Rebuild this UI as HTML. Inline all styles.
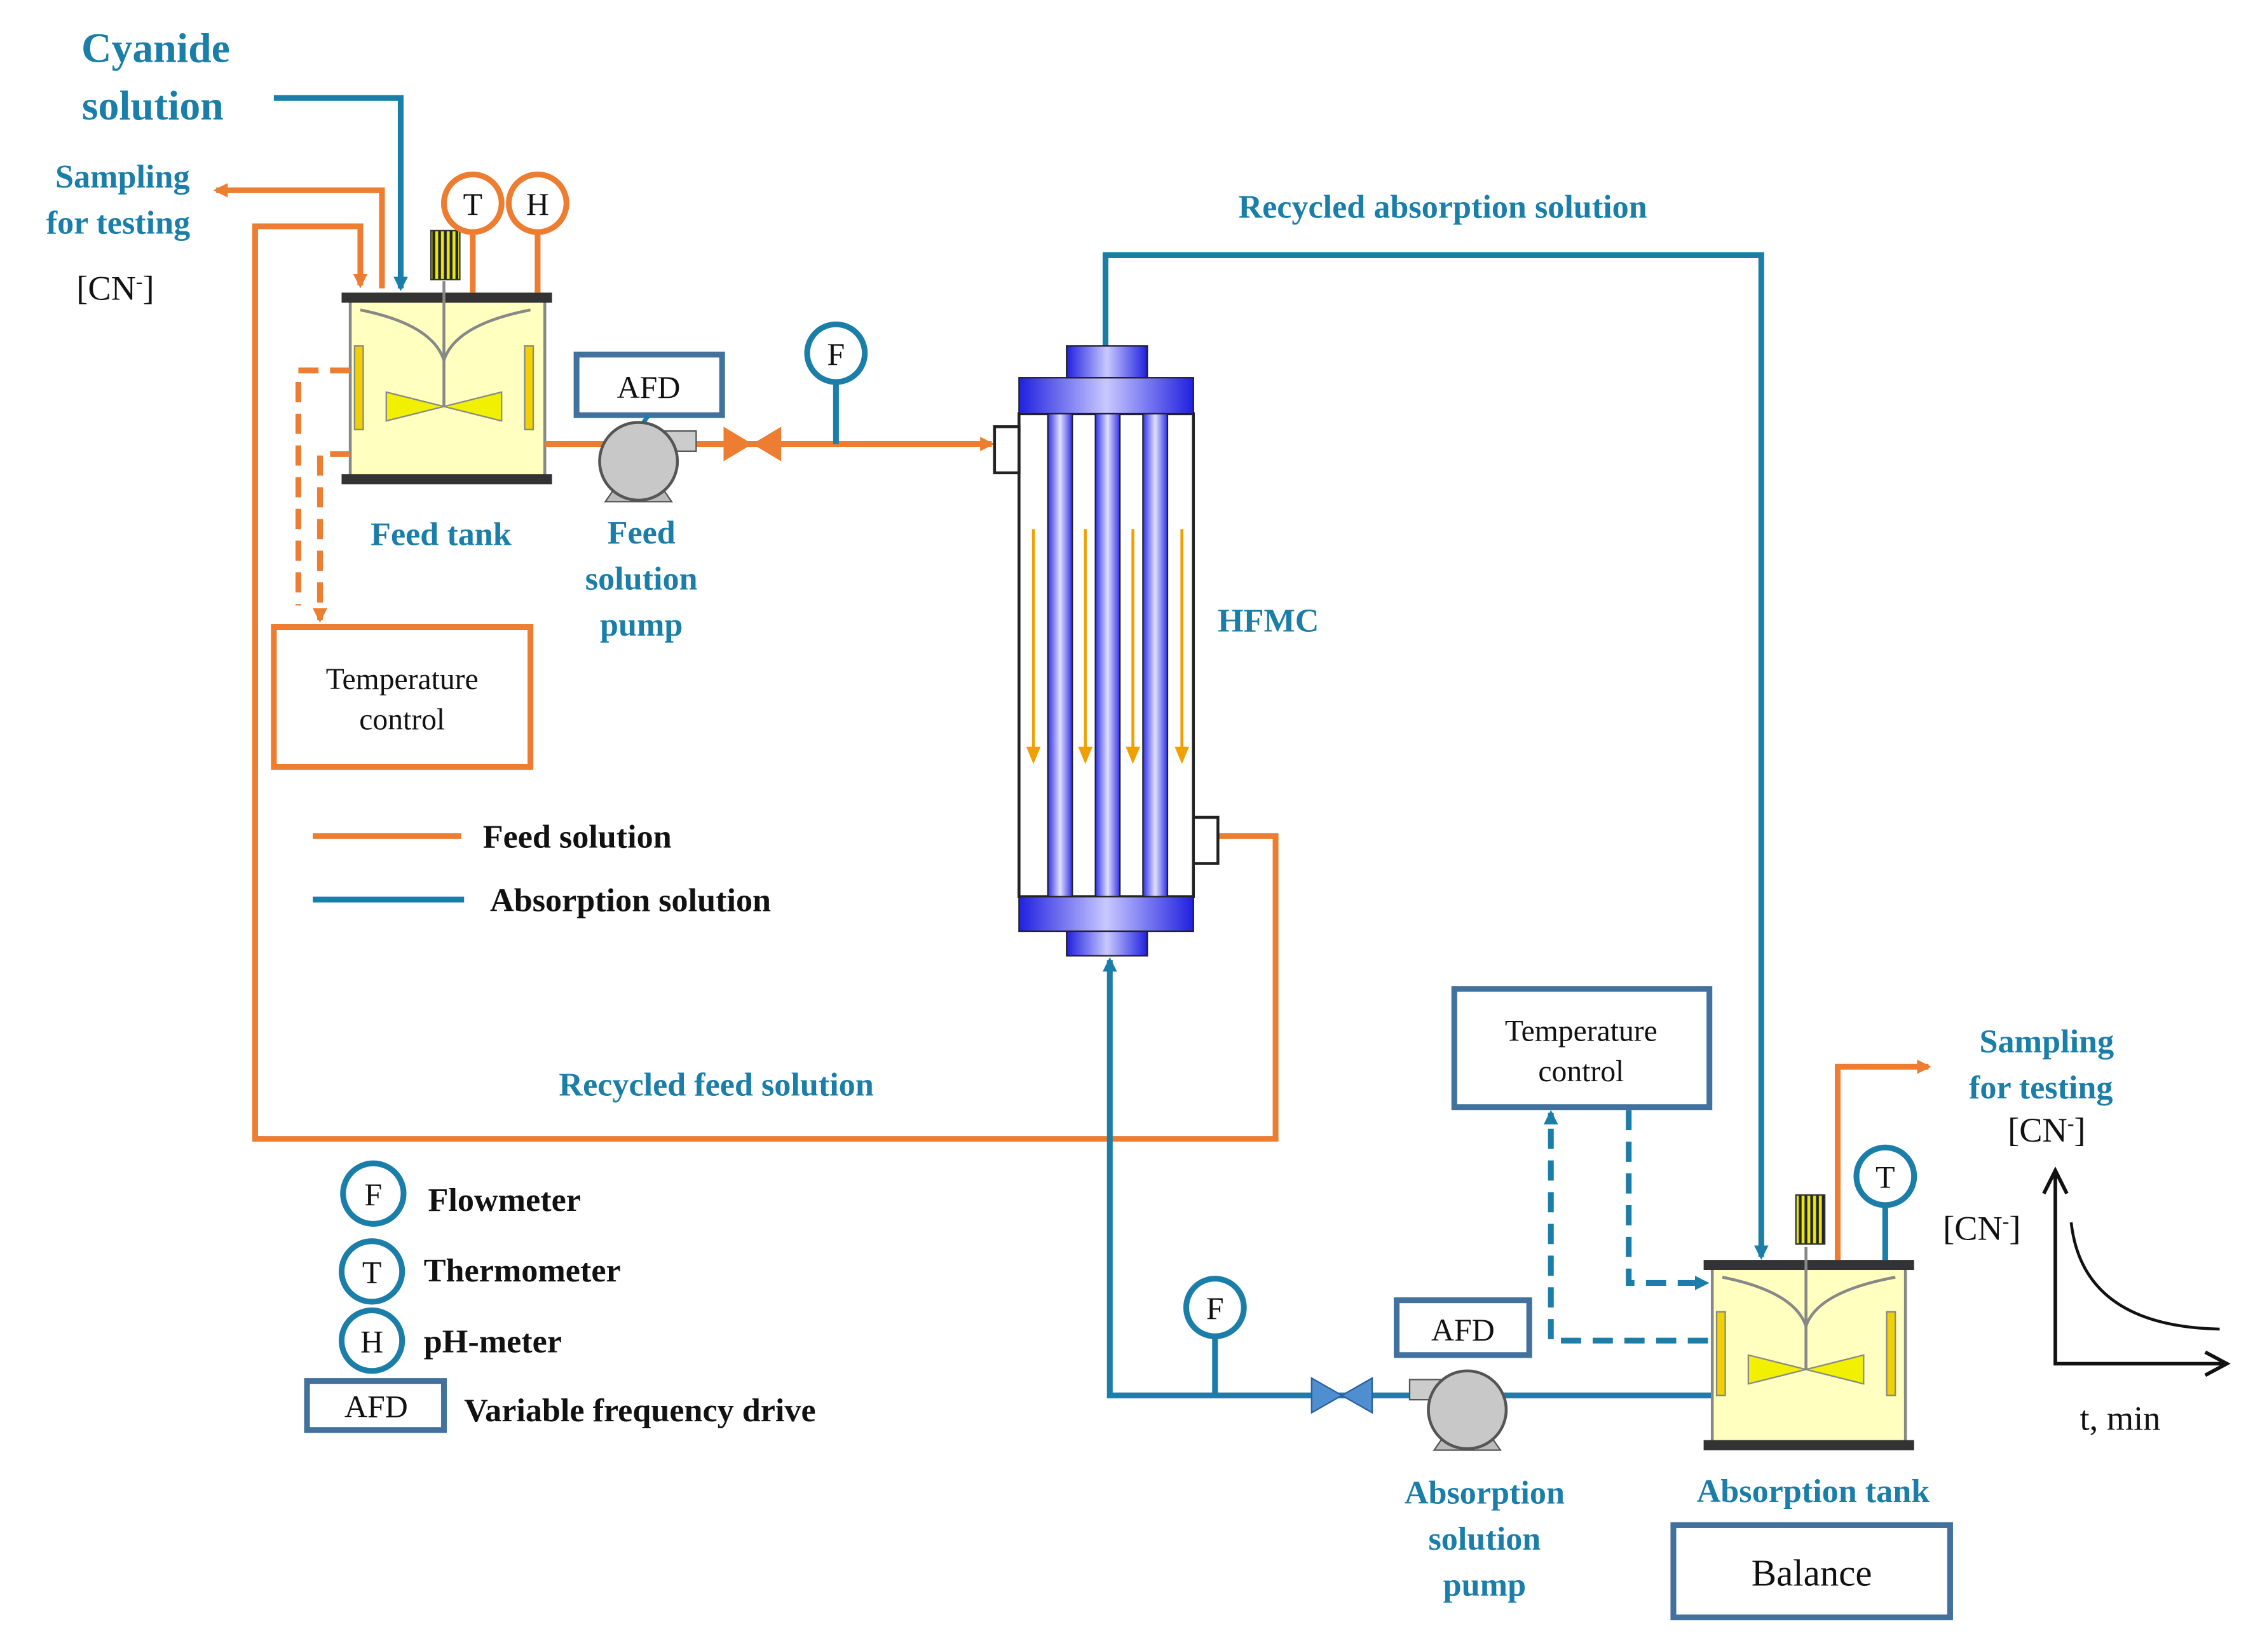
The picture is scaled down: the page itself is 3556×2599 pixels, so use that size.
<!DOCTYPE html>
<html><head><meta charset="utf-8"><style>
html,body{margin:0;padding:0;background:#fff;}
svg{display:block}
text{font-family:"Liberation Serif",serif;}
.t{fill:#1a7ea8;font-weight:bold;font-size:23px;text-anchor:middle}
.o{fill:#ED7D31;font-weight:bold;font-size:23px;text-anchor:middle}
.k{fill:#111;font-size:21px;text-anchor:middle}
.lg{fill:#111;font-weight:bold;font-size:23px}
</style></head><body>
<svg width="3556" height="2599" viewBox="0 0 1568 1146" preserveAspectRatio="none" xmlns="http://www.w3.org/2000/svg">
<defs>
<marker id="ao" markerWidth="10" markerHeight="10" refX="8" refY="5" orient="auto" markerUnits="userSpaceOnUse"><path d="M0,0 L10,5 L0,10 z" fill="#ED7D31"/></marker>
<marker id="ab" markerWidth="10" markerHeight="10" refX="8" refY="5" orient="auto" markerUnits="userSpaceOnUse"><path d="M0,0 L10,5 L0,10 z" fill="#1a7ea8"/></marker>
<linearGradient id="hg" x1="0" x2="1"><stop offset="0" stop-color="#2020e0"/><stop offset="0.5" stop-color="#c8c8ff"/><stop offset="1" stop-color="#2020e0"/></linearGradient>
<linearGradient id="tg" x1="0" x2="1"><stop offset="0" stop-color="#3030e8"/><stop offset="0.5" stop-color="#e0e0ff"/><stop offset="1" stop-color="#3030e8"/></linearGradient>
<pattern id="mot" width="4" height="4" patternUnits="userSpaceOnUse"><rect width="2" height="4" fill="#222"/><rect x="2" width="2" height="4" fill="#e8e800"/></pattern>
</defs>

<text x="108" y="43" class="t" style="font-size:29px">Cyanide</text>
<text x="106" y="83" class="t" style="font-size:29px">solution</text>
<polyline points="190,68 278,68 278,200" fill="none" stroke="#1a7ea8" stroke-width="4" marker-end="url(#ab)"/>
<text x="85" y="130" class="t">Sampling</text>
<text x="82" y="162" class="t">for testing</text>
<text x="80" y="208" class="k" style="font-size:24px">[CN<tspan dy="-8" font-size="14">-</tspan><tspan dy="8">]</tspan></text>
<polyline points="265,200 265,132 150,132" fill="none" stroke="#ED7D31" stroke-width="4" marker-end="url(#ao)"/>
<polyline points="845,580 885,580 885,790 177,790 177,157 250,157 250,198" fill="none" stroke="#ED7D31" stroke-width="4" marker-end="url(#ao)"/>

<rect x="243" y="207" width="135" height="126" fill="#FFFFC0" stroke="#888" stroke-width="2"/>
<rect x="237" y="203" width="146" height="7" fill="#333"/>
<rect x="237" y="329" width="146" height="7" fill="#333"/>
<rect x="246" y="240" width="6" height="58" fill="#f0d000" stroke="#888"/>
<rect x="364" y="240" width="6" height="58" fill="#f0d000" stroke="#888"/>
<path d="M250,215 Q300,225 308,250 Q316,225 368,215" fill="none" stroke="#888" stroke-width="2"/>
<line x1="308" y1="195" x2="308" y2="282" stroke="#888" stroke-width="2"/>
<path d="M268,272 L308,282 L268,292 z M348,272 L308,282 L348,292 z" fill="#f0f000" stroke="#888"/>
<rect x="299" y="160" width="20" height="34" fill="url(#mot)" stroke="#333"/>
<line x1="328" y1="161" x2="328" y2="203" stroke="#ED7D31" stroke-width="4"/>
<line x1="373" y1="161" x2="373" y2="203" stroke="#ED7D31" stroke-width="4"/>
<circle cx="328" cy="141" r="20" fill="#fff" stroke="#ED7D31" stroke-width="4"/>
<circle cx="373" cy="141" r="20" fill="#fff" stroke="#ED7D31" stroke-width="4"/>
<text x="328" y="149" class="k" style="font-size:22px">T</text>
<text x="373" y="149" class="k" style="font-size:22px">H</text>
<polyline points="243,257 207,257 207,420" fill="none" stroke="#ED7D31" stroke-width="4" stroke-dasharray="14,8"/>
<polyline points="243,315 222,315 222,430" fill="none" stroke="#ED7D31" stroke-width="4" stroke-dasharray="14,8" marker-end="url(#ao)"/>
<rect x="190" y="435" width="178" height="97" fill="#fff" stroke="#ED7D31" stroke-width="4"/>
<text x="279" y="478" class="k">Temperature</text>
<text x="279" y="506" class="k">control</text>
<text x="306" y="378" class="t">Feed tank</text>

<line x1="378" y1="308" x2="688" y2="308" stroke="#ED7D31" stroke-width="4" marker-end="url(#ao)"/>
<rect x="400" y="246" width="101" height="42" fill="#fff" stroke="#41719C" stroke-width="4"/>
<text x="450" y="276" class="k" style="font-size:22px">AFD</text>
<line x1="450" y1="288" x2="443" y2="298" stroke="#1a7ea8" stroke-width="3"/>
<path d="M420,348 L466,348 L455,332 L431,332 z" fill="#bbb" stroke="#555"/>
<rect x="455" y="299" width="28" height="14" fill="#ccc" stroke="#555"/>
<circle cx="443" cy="320" r="27" fill="#c8c8c8" stroke="#555" stroke-width="2"/>
<path d="M502,296 L522,308 L502,320 z M542,296 L522,308 L542,320 z" fill="#ED7D31"/>
<line x1="580" y1="265" x2="580" y2="308" stroke="#1a7ea8" stroke-width="4"/>
<circle cx="580" cy="245" r="20" fill="#fff" stroke="#1a7ea8" stroke-width="4"/>
<text x="580" y="253" class="k" style="font-size:22px">F</text>
<text x="445" y="377" class="t">Feed</text>
<text x="445" y="409" class="t">solution</text>
<text x="445" y="441" class="t">pump</text>

<polyline points="767,240 767,177 1222,177 1222,872" fill="none" stroke="#1a7ea8" stroke-width="4" marker-end="url(#ab)"/>
<text x="1001" y="151" class="t">Recycled absorption solution</text>
<rect x="707" y="287" width="121" height="335" fill="#fff" stroke="#222" stroke-width="2"/>
<rect x="727" y="287" width="17" height="335" fill="url(#tg)" stroke="#222"/>
<rect x="760" y="287" width="17" height="335" fill="url(#tg)" stroke="#222"/>
<rect x="793" y="287" width="17" height="335" fill="url(#tg)" stroke="#222"/>
<rect x="707" y="262" width="121" height="25" fill="url(#hg)" stroke="#222"/>
<rect x="740" y="240" width="56" height="22" fill="url(#hg)" stroke="#222"/>
<rect x="707" y="622" width="121" height="24" fill="url(#hg)" stroke="#222"/>
<rect x="740" y="646" width="56" height="17" fill="url(#hg)" stroke="#222"/>
<rect x="690" y="296" width="17" height="32" fill="#fff" stroke="#222" stroke-width="2"/>
<rect x="828" y="567" width="17" height="32" fill="#fff" stroke="#222" stroke-width="2"/>
<g stroke="#f0a000" stroke-width="2" fill="none">
<line x1="717" y1="367" x2="717" y2="522"/><line x1="753" y1="367" x2="753" y2="522"/><line x1="786" y1="367" x2="786" y2="522"/><line x1="820" y1="367" x2="820" y2="522"/></g>
<g fill="#f0a000"><path d="M712,518 L722,518 L717,530z"/><path d="M748,518 L758,518 L753,530z"/><path d="M781,518 L791,518 L786,530z"/><path d="M815,518 L825,518 L820,530z"/></g>
<text x="880" y="438" class="t">HFMC</text>

<line x1="217" y1="580" x2="320" y2="580" stroke="#ED7D31" stroke-width="4"/>
<text x="335" y="588" class="lg">Feed solution</text>
<line x1="217" y1="624" x2="322" y2="624" stroke="#1a7ea8" stroke-width="4"/>
<text x="340" y="632" class="lg">Absorption solution</text>
<text x="497" y="760" class="t">Recycled feed solution</text>

<polyline points="1188,968 770,968 770,666" fill="none" stroke="#1a7ea8" stroke-width="4" marker-end="url(#ab)"/>
<line x1="843" y1="927" x2="843" y2="968" stroke="#1a7ea8" stroke-width="4"/>
<circle cx="843" cy="907" r="20" fill="#fff" stroke="#1a7ea8" stroke-width="4"/>
<text x="843" y="915" class="k" style="font-size:22px">F</text>
<path d="M910,956 L931,968 L910,980 z M952,956 L931,968 L952,980 z" fill="#4f8fd0" stroke="#2a5fa0"/>
<rect x="969" y="902" width="92" height="38" fill="#fff" stroke="#41719C" stroke-width="4"/>
<text x="1015" y="930" class="k" style="font-size:22px">AFD</text>
<path d="M995,1006 L1041,1006 L1030,990 L1006,990 z" fill="#bbb" stroke="#555"/>
<rect x="978" y="957" width="28" height="14" fill="#ccc" stroke="#555"/>
<circle cx="1018" cy="978" r="27" fill="#c8c8c8" stroke="#555" stroke-width="2"/>
<text x="1030" y="1043" class="t">Absorption</text>
<text x="1030" y="1075" class="t">solution</text>
<text x="1030" y="1107" class="t">pump</text>

<rect x="1009" y="686" width="177" height="82" fill="#fff" stroke="#41719C" stroke-width="4"/>
<text x="1097" y="722" class="k">Temperature</text>
<text x="1097" y="750" class="k">control</text>
<polyline points="1185,930 1076,930 1076,772" fill="none" stroke="#1a7ea8" stroke-width="4" stroke-dasharray="14,8" marker-end="url(#ab)"/>
<polyline points="1130,770 1130,890 1184,890" fill="none" stroke="#1a7ea8" stroke-width="4" stroke-dasharray="14,8" marker-end="url(#ab)"/>

<rect x="1188" y="878" width="134" height="125" fill="#FFFFC0" stroke="#888" stroke-width="2"/>
<rect x="1182" y="874" width="146" height="7" fill="#333"/>
<rect x="1182" y="999" width="146" height="7" fill="#333"/>
<rect x="1191" y="910" width="6" height="58" fill="#f0d000" stroke="#888"/>
<rect x="1309" y="910" width="6" height="58" fill="#f0d000" stroke="#888"/>
<path d="M1195,886 Q1245,896 1253,920 Q1261,896 1315,886" fill="none" stroke="#888" stroke-width="2"/>
<line x1="1253" y1="865" x2="1253" y2="950" stroke="#888" stroke-width="2"/>
<path d="M1213,940 L1253,950 L1213,960 z M1293,940 L1253,950 L1293,960 z" fill="#f0f000" stroke="#888"/>
<rect x="1246" y="829" width="20" height="34" fill="url(#mot)" stroke="#333"/>
<line x1="1308" y1="836" x2="1308" y2="874" stroke="#1a7ea8" stroke-width="4"/>
<circle cx="1308" cy="816" r="20" fill="#fff" stroke="#1a7ea8" stroke-width="4"/>
<text x="1308" y="824" class="k" style="font-size:22px">T</text>
<polyline points="1275,874 1275,740 1338,740" fill="none" stroke="#ED7D31" stroke-width="4" marker-end="url(#ao)"/>
<text x="1420" y="730" class="t">Sampling</text>
<text x="1416" y="762" class="t">for testing</text>
<text x="1420" y="792" class="k" style="font-size:24px">[CN<tspan dy="-8" font-size="14">-</tspan><tspan dy="8">]</tspan></text>
<text x="1258" y="1042" class="t">Absorption tank</text>
<rect x="1161" y="1058" width="192" height="64" fill="#fff" stroke="#41719C" stroke-width="4"/>
<text x="1257" y="1100" class="k" style="font-size:26px">Balance</text>

<polyline points="1426,815 1426,946 1543,946" fill="none" stroke="#111" stroke-width="2.5"/>
<path d="M1418,828 L1426,812 L1434,828" fill="none" stroke="#111" stroke-width="2.5"/>
<path d="M1530,938 L1545,946 L1530,954" fill="none" stroke="#111" stroke-width="2.5"/>
<path d="M1437,848 Q1445,920 1540,922" fill="none" stroke="#111" stroke-width="2"/>
<text x="1375" y="860" class="k" style="font-size:24px">[CN<tspan dy="-8" font-size="14">-</tspan><tspan dy="8">]</tspan></text>
<text x="1471" y="992" class="k" style="font-size:24px">t, min</text>

<circle cx="259" cy="828" r="21" fill="#fff" stroke="#1a7ea8" stroke-width="4"/>
<text x="259" y="836" class="k" style="font-size:22px">F</text>
<text x="297" y="840" class="lg">Flowmeter</text>
<circle cx="258" cy="882" r="21" fill="#fff" stroke="#1a7ea8" stroke-width="4"/>
<text x="258" y="890" class="k" style="font-size:22px">T</text>
<text x="294" y="889" class="lg">Thermometer</text>
<circle cx="258" cy="930" r="21" fill="#fff" stroke="#1a7ea8" stroke-width="4"/>
<text x="258" y="938" class="k" style="font-size:22px">H</text>
<text x="294" y="938" class="lg">pH-meter</text>
<rect x="213" y="958" width="95" height="34" fill="#fff" stroke="#41719C" stroke-width="4"/>
<text x="261" y="983" class="k" style="font-size:22px">AFD</text>
<text x="322" y="986" class="lg">Variable frequency drive</text>
</svg>
</body></html>
